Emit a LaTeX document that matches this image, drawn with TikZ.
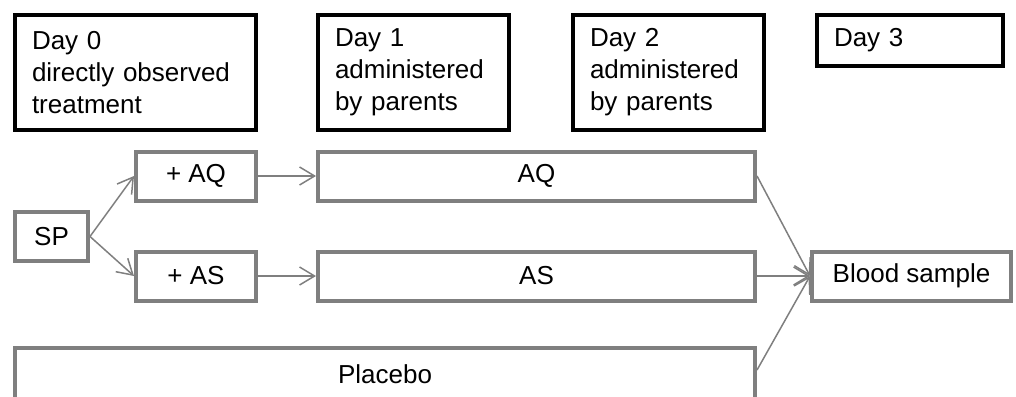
\documentclass[tikz,border=0pt]{standalone}
\usepackage{fontspec}
\setmainfont{Liberation Sans}
\usetikzlibrary{arrows.meta}
\definecolor{boxgray}{RGB}{127,127,127}

\begin{document}
\begin{tikzpicture}[x=1pt,y=-1pt,font=\fontsize{26}{32}\selectfont]

        \useasboundingbox (0,0) rectangle (1016,396);

        \begin{scope}[every node/.style={draw, line width=4pt, align=left, inner xsep=17pt, inner ysep=0pt, minimum height=115pt}]
          \node[text width=207pt] (d0) at (135.5,72.5) {Day 0\\directly observed\\treatment};
          \node[text width=157pt] (d1) at (413.5,72.5) {Day 1\\administered\\by parents};
          \node[text width=157pt] (d2) at (668.5,72.5) {Day 2\\administered\\by parents};
          \node[text width=152pt, minimum height=51pt] (d3) at (910,40.5) {Day 3};
        \end{scope}

        \begin{scope}[every node/.style={draw=boxgray, line width=4pt, inner sep=0pt, minimum height=49pt}]
          \node[minimum width=73pt]  (sp)  at (51.5,236.5) {SP};
          \node[minimum width=120pt] (aq1) at (196,176)    {+ AQ};
          \node[minimum width=120pt] (as1) at (196,276)    {+ AS};
          \node[minimum width=437pt] (aq)  at (536.5,176)  {AQ};
          \node[minimum width=437pt] (as)  at (536.5,276)  {AS};
          \node[minimum width=740pt, minimum height=58pt] (pl) at (385,377) {};
          \node[minimum width=199pt] (bs)  at (911.5,276)  {Blood sample};
        \end{scope}

        % placebo box runs off the bottom edge
        \node (plt) at (385,374) {Placebo};

        \begin{scope}[every edge/.style={draw=boxgray, line width=1.5pt, -{Straight Barb[length=15pt,width=18pt]}}]
          \path (sp.east)  edge (aq1.west);
          \path (sp.east)  edge (as1.west);
          \path (aq1.east) edge (aq.west);
          \path (as1.east) edge (as.west);
          \path (aq.east)  edge (bs.west);
          \path (as.east)  edge (bs.west);
          \path ([yshift=7pt]pl.east) edge (bs.west);
        \end{scope}

\end{tikzpicture}
\end{document}
